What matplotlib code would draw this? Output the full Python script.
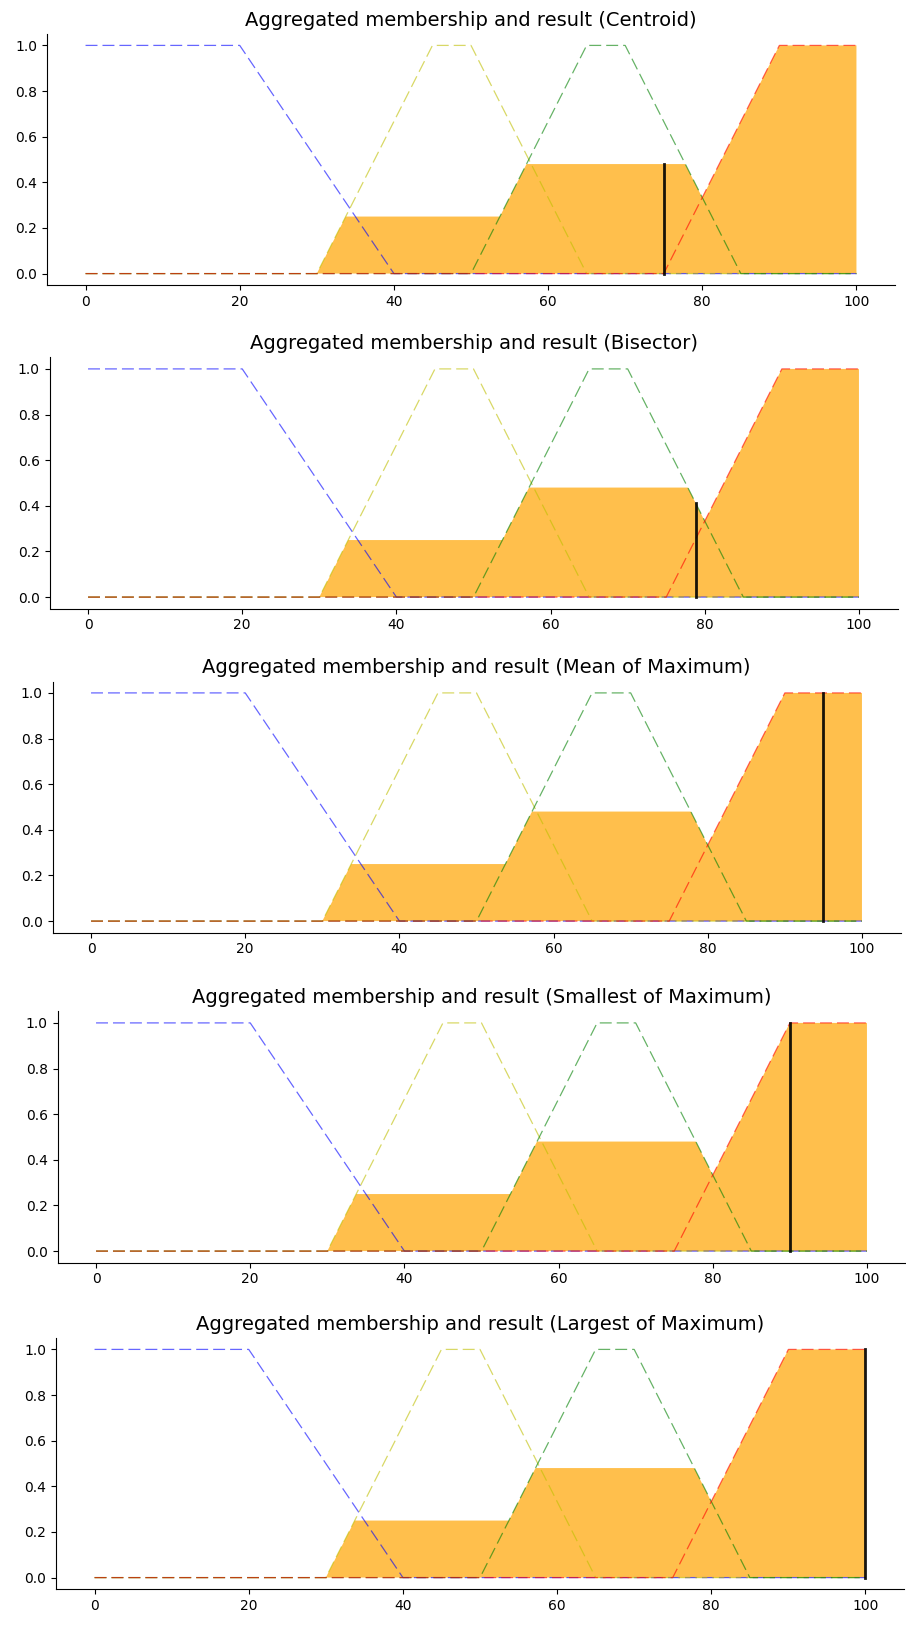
import numpy as np
import matplotlib.pyplot as plt

# DATA
x_lo = [0, 20, 40, 100]
y_lo = [1, 1, 0, 0]
x_md = [0, 30, 45, 50, 65, 100]
y_md = [0, 0, 1, 1, 0, 0]
x_hi = [0, 50, 65, 70, 85, 100]
y_hi = [0, 0, 1, 1, 0, 0]
x_vh = [0, 75, 90, 100]
y_vh = [0, 0, 1, 1]

# aggregated membership (outline of the orange area)
x_agg = [0, 30, 33.75, 53.75, 57.2, 77.8, 80, 90, 100]
y_agg = [0, 0, 0.25, 0.25, 0.48, 0.48, 0.333, 1, 1]

methods = ['Centroid', 'Bisector', 'Mean of Maximum', 'Smallest of Maximum', 'Largest of Maximum']
results = [75.0, 78.8, 95.0, 90.0, 100.0]
activation = [0.48, 0.413, 1.0, 1.0, 1.0]

# LAYOUT (pixels: left spine, bottom spine from top)
W, H = 906, 1627
lefts = [47, 49.5, 52.5, 57.5, 56]
bottoms = [285, 608.5, 932.5, 1262.5, 1589]
AX_W, AX_H = 848, 251

fig = plt.figure(figsize=(W / 100, H / 100), dpi=100)

mfs = [(x_lo, y_lo, 'b'), (x_md, y_md, 'y'), (x_hi, y_hi, 'g'), (x_vh, y_vh, 'r')]
LW = 0.9

for i in range(len(methods)):
    ax = fig.add_axes([lefts[i] / W, (H - bottoms[i]) / H, AX_W / W, AX_H / H])

    for xs, ys, c in mfs:
        ax.plot(xs, ys, color=c, linewidth=LW, alpha=0.6, dashes=(8.6 / LW, 3.6 / LW))

    ax.fill_between(x_agg, np.zeros(len(x_agg)), y_agg, facecolor='Orange', alpha=0.7)
    ax.plot([results[i], results[i]], [0, activation[i]], 'k', linewidth=2, alpha=0.9)

    ax.set_title(f"Aggregated membership and result ({methods[i]})", fontsize=14)
    ax.set_xlim(-5, 105)
    ax.set_ylim(-0.05, 1.05)
    ax.set_xticks(np.arange(0, 101, 20))
    ax.set_yticks(np.arange(0, 1.01, 0.2))
    ax.spines['top'].set_visible(False)
    ax.spines['right'].set_visible(False)
    ax.get_xaxis().tick_bottom()
    ax.get_yaxis().tick_left()

fig.savefig('out.png', dpi=100)
